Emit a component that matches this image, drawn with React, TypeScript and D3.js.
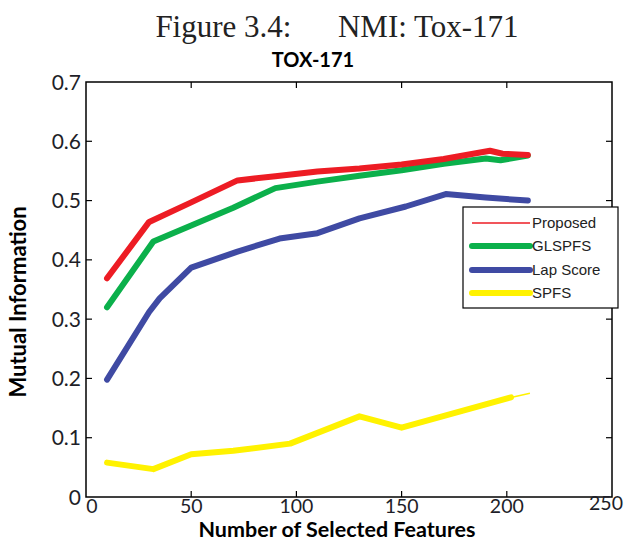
import React from "react";
import * as d3 from "d3";

// NMI on TOX-171: mutual information vs number of selected features

const proposedX = [10, 30, 50, 72, 90, 110, 130, 150, 170, 192, 198, 210];
const proposedY = [0.369, 0.464, 0.497, 0.534, 0.541, 0.549, 0.554, 0.561, 0.57, 0.584, 0.579, 0.577];

const glspfsX = [10, 32, 50, 70, 90, 110, 130, 150, 170, 190, 197, 210];
const glspfsY = [0.32, 0.431, 0.458, 0.488, 0.521, 0.532, 0.542, 0.551, 0.562, 0.571, 0.568, 0.576];

const lapX = [10, 30, 35, 50, 72, 92, 110, 130, 152, 171, 190, 210];
const lapY = [0.198, 0.312, 0.335, 0.387, 0.414, 0.436, 0.445, 0.47, 0.49, 0.511, 0.505, 0.5];

const spfsX = [10, 32, 50, 70, 97, 130, 150, 202, 211];
const spfsY = [0.058, 0.047, 0.072, 0.078, 0.09, 0.136, 0.117, 0.168, 0.175];

const xTicks = [0, 50, 100, 150, 200, 250];
const yTicks = [0, 0.1, 0.2, 0.3, 0.4, 0.5, 0.6, 0.7];

const legendNames = ["Proposed", "GLSPFS", "Lap Score", "SPFS"];
const colors = ["#ed1c24", "#0bb04b", "#3f4aa3", "#fff200"];

const W = 630;
const H = 542;
const plot = { left: 86, right: 612, top: 82, bottom: 497 };

const zip = (xs: number[], ys: number[]) => xs.map((x, i) => [x, ys[i]] as [number, number]);

export default function App() {
  const x = d3.scaleLinear().domain([0, 250]).range([plot.left, plot.right]);
  const y = d3.scaleLinear().domain([0, 0.7]).range([plot.bottom, plot.top]);
  const line = d3.line<[number, number]>().x(d => x(d[0])).y(d => y(d[1]));

  const spfs = zip(spfsX, spfsY);
  const series = [
    { pts: zip(lapX, lapY), color: colors[2] },
    { pts: zip(glspfsX, glspfsY), color: colors[1] },
    { pts: zip(proposedX, proposedY), color: colors[0] },
  ];

  const tickFont = "Lato, 'Open Sans', sans-serif";
  const tl = 6;

  const leg = { x: 463, y: 207, w: 155, h: 101 };
  const legRows = [223, 246, 270, 293];

  return (
    <svg width={W} height={H} style={{ position: "absolute", left: 0, top: 0, background: "#fff" }}>
      <text x={337} y={37} textAnchor="middle" fontFamily="'Liberation Serif', serif" fontSize={31} fill="#222">
        Figure 3.4:{"\u2003\u2002"}NMI: Tox-171
      </text>
      <text x={313} y={67} textAnchor="middle" fontFamily={tickFont} fontWeight="bold" fontSize={20} fill="#000">
        TOX-171
      </text>

      {/* lines */}
      <path d={line(spfs.slice(0, -1)) || ""} fill="none" stroke={colors[3]} strokeWidth={6} strokeLinejoin="round" strokeLinecap="round" />
      <path d={line(spfs.slice(-2)) || ""} fill="none" stroke={colors[3]} strokeWidth={1.5} />
      {series.map((s, i) => (
        <path key={i} d={line(s.pts) || ""} fill="none" stroke={s.color} strokeWidth={6} strokeLinejoin="round" strokeLinecap="round" />
      ))}

      {/* axes box */}
      <rect x={plot.left} y={plot.top} width={plot.right - plot.left} height={plot.bottom - plot.top} fill="none" stroke="#000" strokeWidth={1.5} />
      {xTicks.slice(1, -1).map(t => (
        <g key={"xt" + t}>
          <line x1={x(t)} x2={x(t)} y1={plot.bottom} y2={plot.bottom - tl} stroke="#000" strokeWidth={1.2} />
          <line x1={x(t)} x2={x(t)} y1={plot.top} y2={plot.top + tl} stroke="#000" strokeWidth={1.2} />
        </g>
      ))}
      {yTicks.slice(1, -1).map(t => (
        <g key={"yt" + t}>
          <line x1={plot.left} x2={plot.left + tl} y1={y(t)} y2={y(t)} stroke="#000" strokeWidth={1.2} />
          <line x1={plot.right} x2={plot.right - tl} y1={y(t)} y2={y(t)} stroke="#000" strokeWidth={1.2} />
        </g>
      ))}
      {xTicks.map((t, i) => (
        <text key={"xl" + t} x={x(t) + (i === 0 ? 6 : i === xTicks.length - 1 ? -6 : 0)} y={i === xTicks.length - 1 ? 510 : 513}
          textAnchor="middle" fontFamily={tickFont} fontSize={19.5} fill="#1e1e28">
          {t}
        </text>
      ))}
      {yTicks.map(t => (
        <text key={"yl" + t} x={81} y={y(t) + 7.5} textAnchor="end" fontFamily={tickFont} fontSize={21} fill="#1e1e28">
          {t === 0 ? "0" : d3.format(".1f")(t)}
        </text>
      ))}

      <text x={337} y={537} textAnchor="middle" fontFamily={tickFont} fontWeight="bold" fontSize={21.5} fill="#000">
        Number of Selected Features
      </text>
      <text transform="translate(26,302) rotate(-90)" textAnchor="middle" fontFamily={tickFont} fontWeight="bold" fontSize={22} fill="#000">
        Mutual Information
      </text>

      {/* legend */}
      <rect x={leg.x} y={leg.y} width={leg.w} height={leg.h} fill="#fff" stroke="#000" strokeWidth={1.2} />
      {legendNames.map((n, i) => (
        <g key={n}>
          <line x1={472} x2={530} y1={legRows[i]} y2={legRows[i]} stroke={colors[i]} strokeWidth={i === 0 ? 1.3 : 6} strokeLinecap={i === 0 ? "butt" : "round"} />
          <text x={532} y={legRows[i] + 5} fontFamily="'Liberation Sans', Arial, sans-serif" fontSize={15} fill="#222">
            {n}
          </text>
        </g>
      ))}
    </svg>
  );
}
